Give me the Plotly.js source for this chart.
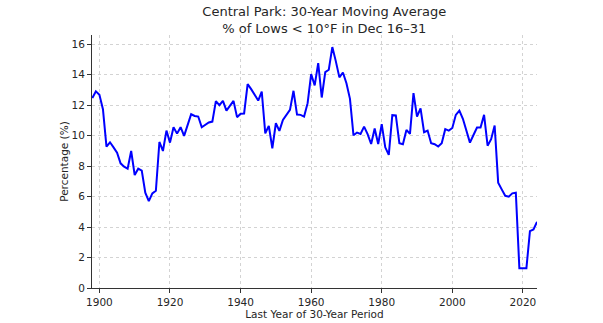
<!DOCTYPE html>
<html>
<head>
<meta charset="utf-8">
<script src="https://cdn.plot.ly/plotly-3.0.1.min.js"></script>
<style>
html,body{margin:0;padding:0;background:#fff;}
#chart{width:603px;height:323px;}
</style>
</head>
<body>
<div id="chart"></div>
<script>
const years = [1898,1899,1900,1901,1902,1903,1904,1905,1906,1907,1908,1909,
1910,1911,1912,1913,1914,1915,1916,1917,1918,1919,
1920,1921,1922,1923,1924,1925,1926,1927,1928,1929,
1930,1931,1932,1933,1934,1935,1936,1937,1938,1939,
1940,1941,1942,1943,1944,1945,1946,1947,1948,1949,
1950,1951,1952,1953,1954,1955,1956,1957,1958,1959,
1960,1961,1962,1963,1964,1965,1966,1967,1968,1969,
1970,1971,1972,1973,1974,1975,1976,1977,1978,1979,
1980,1981,1982,1983,1984,1985,1986,1987,1988,1989,
1990,1991,1992,1993,1994,1995,1996,1997,1998,1999,
2000,2001,2002,2003,2004,2005,2006,2007,2008,2009,
2010,2011,2012,2013,2014,2015,2016,2017,2018,2019,
2020,2021,2022,2023,2024];

const pctLows = [12.46,12.9,12.68,11.73,9.28,9.56,9.23,8.88,8.18,7.96,7.83,8.99,
7.41,7.83,7.70,6.25,5.70,6.21,6.38,9.58,8.99,10.33,
9.54,10.55,10.13,10.55,9.98,10.70,11.40,11.29,11.25,10.55,
10.72,10.86,10.92,12.26,12.0,12.28,11.64,12.0,12.28,11.21,
11.43,11.45,13.38,13.05,12.68,12.30,12.89,10.15,10.64,9.17,
10.81,10.31,11.03,11.36,11.69,12.94,11.38,11.36,11.25,12.13,
14.04,13.29,14.76,12.5,14.17,14.32,15.81,14.87,13.82,14.14,
13.44,12.41,10.02,10.2,10.11,10.59,10.1,9.45,10.46,9.45,
10.75,9.23,8.73,11.34,11.32,9.5,9.43,10.37,10.11,12.79,
11.25,11.78,10.22,10.33,9.5,9.43,9.28,9.5,10.42,10.33,
10.5,11.36,11.64,11.1,10.37,9.54,10.04,10.53,10.53,11.36,
9.34,9.76,10.66,6.91,6.47,6.05,5.99,6.21,6.25,1.3,
1.3,1.3,3.73,3.84,4.34];

const xTicks = [1900,1920,1940,1960,1980,2000,2020];
const yTicks = [0,2,4,6,8,10,12,14,16];

const titleText = "Central Park: 30-Year Moving Average<br>% of Lows < 10°F in Dec 16–31";
const xTitle = "Last Year of 30-Year Period";
const yTitle = "Percentage (%)";

const txt = '#262626';
const fam = '"DejaVu Sans", sans-serif';

const trace = {
  x: years, y: pctLows, type: 'scatter', mode: 'lines',
  line: {color: '#0000ff', width: 2}, hoverinfo: 'skip'
};

const axisCommon = {
  showline: true, linecolor: '#333', linewidth: 1,
  ticks: 'outside', ticklen: 4, tickwidth: 1, tickcolor: '#333',
  showgrid: true, gridcolor: '#d3d3d3', gridwidth: 1, griddash: 'dot',
  zeroline: false, tickfont: {family: fam, size: 10.5, color: txt},
  automargin: false
};

const layout = {
  width: 603, height: 323,
  margin: {l: 92, r: 66, t: 35, b: 35, pad: 0},
  paper_bgcolor: '#fff', plot_bgcolor: '#fff',
  showlegend: false,
  font: {family: fam, color: txt},
  title: {text: titleText, font: {family: fam, size: 13, color: txt},
    x: 0.522, xanchor: 'center', xref: 'paper', y: 0.951, yanchor: 'middle', yref: 'container'},
  xaxis: Object.assign({}, axisCommon, {
    range: [1897.9, 2024.0], tickmode: 'array', tickvals: xTicks,
    ticktext: xTicks.map(String),
    title: {text: xTitle, font: {family: fam, size: 10.5, color: txt}, standoff: 0}
  }),
  yaxis: Object.assign({}, axisCommon, {
    range: [0, 16.6], tickmode: 'array', tickvals: yTicks,
    ticktext: yTicks.map(String),
    title: {text: yTitle, font: {family: fam, size: 10.5, color: txt}, standoff: 0}
  })
};

Plotly.newPlot('chart', [trace], layout, {staticPlot: true, displayModeBar: false});
</script>
</body>
</html>
